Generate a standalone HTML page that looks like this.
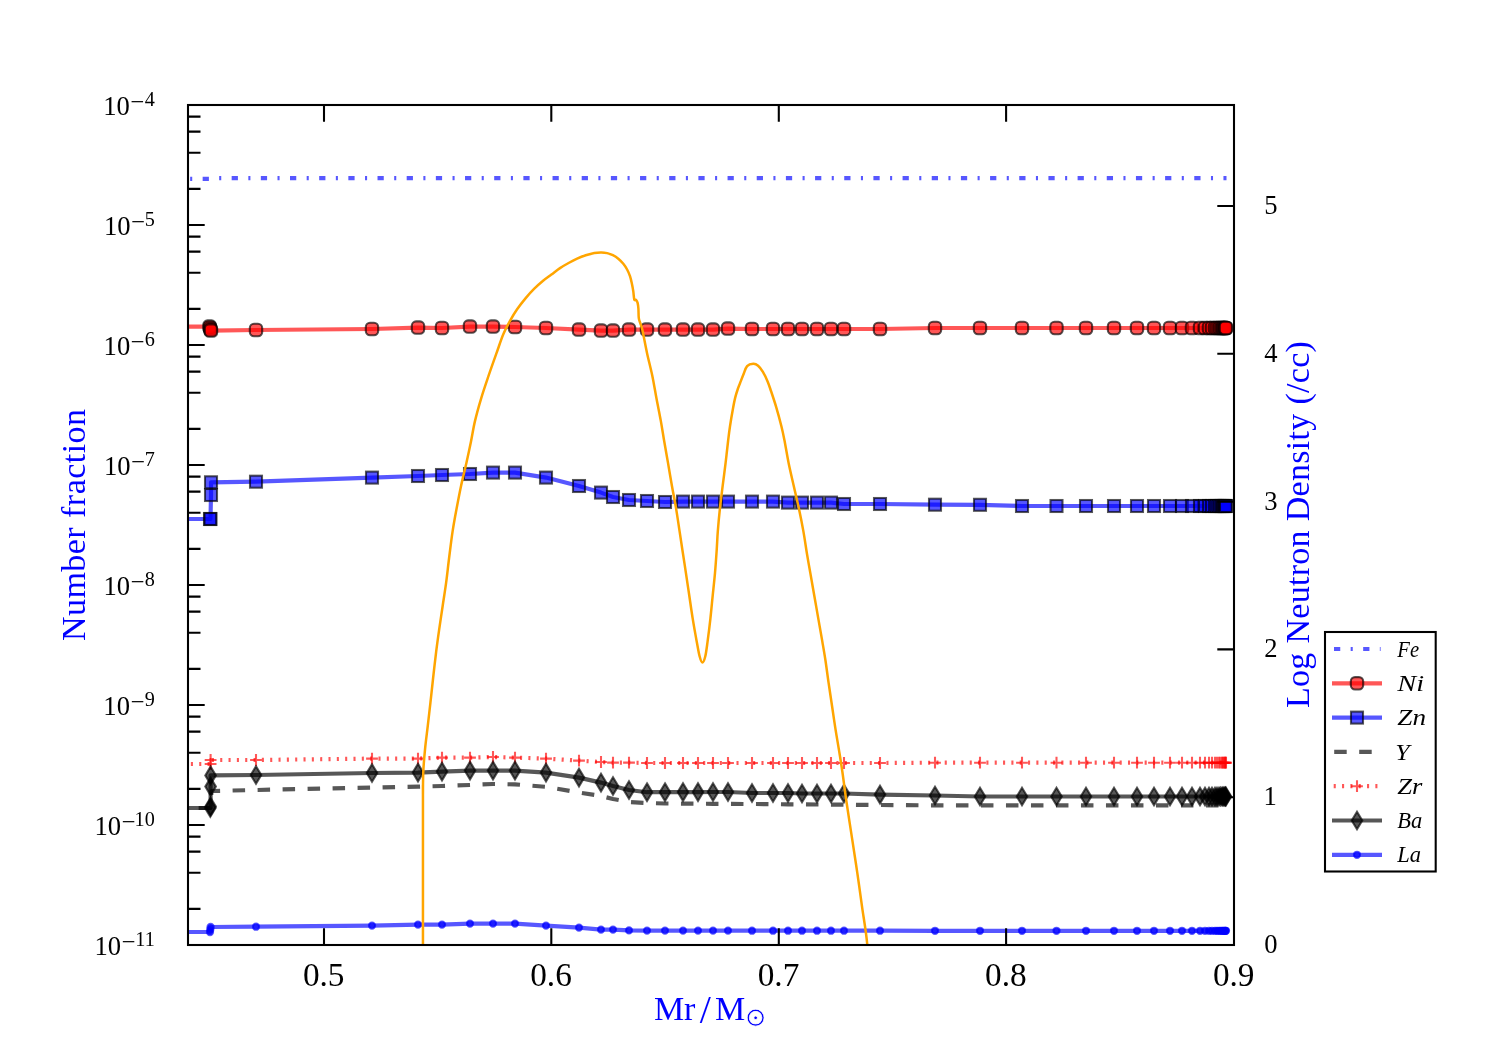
<!DOCTYPE html>
<html><head><meta charset="utf-8"><title>Abundance profile</title><style>
html,body{margin:0;padding:0;background:#fff;width:1500px;height:1050px;overflow:hidden;}
svg{display:block;will-change:transform;}
text{font-family:"Liberation Serif","DejaVu Serif",serif;}
</style></head><body>
<svg width="1500" height="1050" viewBox="0 0 1500 1050">
<rect x="0" y="0" width="1500" height="1050" fill="#fff"/>
<defs><clipPath id="ax"><rect x="188" y="105" width="1046" height="840"/></clipPath>
<rect id="mO" x="-6.2" y="-6.2" width="12.4" height="12.4" rx="4.2" ry="4.2"/>
<rect id="mS" x="-6" y="-6" width="12" height="12"/>
<path id="mD" d="M0,-8.8 L5.3,0 L0,8.8 L-5.3,0 Z"/>
<path id="mP" d="M-5.9,0 H5.9 M0,-5.9 V5.9"/>
<circle id="mDot" r="3.1"/>
</defs>
<g clip-path="url(#ax)">
<polyline points="170.0,178.9 209.5,178.9 211.0,178.2 1226.5,178.2" fill="none" stroke="#0000ff" stroke-opacity="0.66" stroke-width="4.17" stroke-dasharray="6.25 10.42 2.08 10.42" stroke-dashoffset="25.69" stroke-linecap="butt" stroke-linejoin="round"/>
<polyline points="170.0,326.6 209.5,326.6 209.5,326.6 210.0,327.8 210.5,329.5 211.0,330.6 256.0,330.0 372.0,329.0 418.0,327.6 442.0,328.0 470.0,326.6 493.0,326.6 515.0,327.0 546.0,328.0 579.0,329.6 601.0,330.6 613.0,330.6 629.0,329.6 647.0,329.6 665.0,329.6 683.0,329.6 698.0,329.6 713.0,329.6 728.0,328.6 752.0,329.0 773.0,329.0 788.0,329.0 802.0,329.0 817.0,329.0 831.0,329.0 844.0,329.0 880.0,329.0 935.0,328.0 980.0,328.0 1022.0,328.0 1056.5,328.0 1086.0,328.0 1114.0,328.0 1137.0,328.0 1154.0,328.0 1170.0,328.0 1182.0,328.0 1192.0,328.0 1200.0,328.0 1205.0,328.0 1209.0,328.0 1212.0,328.0 1215.0,328.0 1217.0,328.0 1219.0,328.0 1220.5,328.0 1222.0,328.0 1223.0,328.0 1224.0,328.0 1225.0,328.0 1225.5,328.0 1226.0,328.0" fill="none" stroke="#ff0000" stroke-opacity="0.66" stroke-width="4.17" stroke-linejoin="round"/>
<g fill="#ff0000" fill-opacity="0.66" stroke="#000" stroke-opacity="0.66" stroke-width="2.08"><use href="#mO" x="209.5" y="326.6"/><use href="#mO" x="210.0" y="327.8"/><use href="#mO" x="210.5" y="329.5"/><use href="#mO" x="211.0" y="330.6"/><use href="#mO" x="256.0" y="330.0"/><use href="#mO" x="372.0" y="329.0"/><use href="#mO" x="418.0" y="327.6"/><use href="#mO" x="442.0" y="328.0"/><use href="#mO" x="470.0" y="326.6"/><use href="#mO" x="493.0" y="326.6"/><use href="#mO" x="515.0" y="327.0"/><use href="#mO" x="546.0" y="328.0"/><use href="#mO" x="579.0" y="329.6"/><use href="#mO" x="601.0" y="330.6"/><use href="#mO" x="613.0" y="330.6"/><use href="#mO" x="629.0" y="329.6"/><use href="#mO" x="647.0" y="329.6"/><use href="#mO" x="665.0" y="329.6"/><use href="#mO" x="683.0" y="329.6"/><use href="#mO" x="698.0" y="329.6"/><use href="#mO" x="713.0" y="329.6"/><use href="#mO" x="728.0" y="328.6"/><use href="#mO" x="752.0" y="329.0"/><use href="#mO" x="773.0" y="329.0"/><use href="#mO" x="788.0" y="329.0"/><use href="#mO" x="802.0" y="329.0"/><use href="#mO" x="817.0" y="329.0"/><use href="#mO" x="831.0" y="329.0"/><use href="#mO" x="844.0" y="329.0"/><use href="#mO" x="880.0" y="329.0"/><use href="#mO" x="935.0" y="328.0"/><use href="#mO" x="980.0" y="328.0"/><use href="#mO" x="1022.0" y="328.0"/><use href="#mO" x="1056.5" y="328.0"/><use href="#mO" x="1086.0" y="328.0"/><use href="#mO" x="1114.0" y="328.0"/><use href="#mO" x="1137.0" y="328.0"/><use href="#mO" x="1154.0" y="328.0"/><use href="#mO" x="1170.0" y="328.0"/><use href="#mO" x="1182.0" y="328.0"/><use href="#mO" x="1192.0" y="328.0"/><use href="#mO" x="1200.0" y="328.0"/><use href="#mO" x="1205.0" y="328.0"/><use href="#mO" x="1209.0" y="328.0"/><use href="#mO" x="1212.0" y="328.0"/><use href="#mO" x="1215.0" y="328.0"/><use href="#mO" x="1217.0" y="328.0"/><use href="#mO" x="1219.0" y="328.0"/><use href="#mO" x="1220.5" y="328.0"/><use href="#mO" x="1222.0" y="328.0"/><use href="#mO" x="1223.0" y="328.0"/><use href="#mO" x="1224.0" y="328.0"/><use href="#mO" x="1225.0" y="328.0"/><use href="#mO" x="1225.5" y="328.0"/><use href="#mO" x="1226.0" y="328.0"/></g>
<polyline points="170.0,519.0 209.5,519.0 210.0,519.0 210.5,519.0 211.0,495.0 211.0,482.3 256.0,481.7 372.0,477.6 418.0,476.0 442.0,475.0 470.0,474.0 493.0,472.6 515.0,472.6 546.0,477.6 579.0,486.0 601.0,492.6 613.0,497.0 629.0,500.0 647.0,501.0 665.0,502.0 683.0,501.6 698.0,501.6 713.0,501.6 728.0,501.6 752.0,501.6 773.0,501.6 788.0,502.6 802.0,502.6 817.0,502.6 831.0,502.6 844.0,504.0 880.0,504.0 935.0,504.7 980.0,504.8 1022.0,506.0 1056.5,506.0 1086.0,506.0 1114.0,506.0 1137.0,506.0 1154.0,506.0 1170.0,506.0 1182.0,506.0 1192.0,506.0 1200.0,506.0 1205.0,506.0 1209.0,506.0 1212.0,506.0 1215.0,506.0 1217.0,506.0 1219.0,506.0 1220.5,506.0 1222.0,506.0 1223.0,506.0 1224.0,506.0 1225.0,506.0 1225.5,506.0 1226.0,506.0" fill="none" stroke="#0000ff" stroke-opacity="0.66" stroke-width="4.17" stroke-linejoin="round"/>
<g fill="#0000ff" fill-opacity="0.66" stroke="#000" stroke-opacity="0.66" stroke-width="2.08"><use href="#mS" x="210.0" y="519.0"/><use href="#mS" x="210.5" y="519.0"/><use href="#mS" x="211.0" y="495.0"/><use href="#mS" x="211.0" y="482.3"/><use href="#mS" x="256.0" y="481.7"/><use href="#mS" x="372.0" y="477.6"/><use href="#mS" x="418.0" y="476.0"/><use href="#mS" x="442.0" y="475.0"/><use href="#mS" x="470.0" y="474.0"/><use href="#mS" x="493.0" y="472.6"/><use href="#mS" x="515.0" y="472.6"/><use href="#mS" x="546.0" y="477.6"/><use href="#mS" x="579.0" y="486.0"/><use href="#mS" x="601.0" y="492.6"/><use href="#mS" x="613.0" y="497.0"/><use href="#mS" x="629.0" y="500.0"/><use href="#mS" x="647.0" y="501.0"/><use href="#mS" x="665.0" y="502.0"/><use href="#mS" x="683.0" y="501.6"/><use href="#mS" x="698.0" y="501.6"/><use href="#mS" x="713.0" y="501.6"/><use href="#mS" x="728.0" y="501.6"/><use href="#mS" x="752.0" y="501.6"/><use href="#mS" x="773.0" y="501.6"/><use href="#mS" x="788.0" y="502.6"/><use href="#mS" x="802.0" y="502.6"/><use href="#mS" x="817.0" y="502.6"/><use href="#mS" x="831.0" y="502.6"/><use href="#mS" x="844.0" y="504.0"/><use href="#mS" x="880.0" y="504.0"/><use href="#mS" x="935.0" y="504.7"/><use href="#mS" x="980.0" y="504.8"/><use href="#mS" x="1022.0" y="506.0"/><use href="#mS" x="1056.5" y="506.0"/><use href="#mS" x="1086.0" y="506.0"/><use href="#mS" x="1114.0" y="506.0"/><use href="#mS" x="1137.0" y="506.0"/><use href="#mS" x="1154.0" y="506.0"/><use href="#mS" x="1170.0" y="506.0"/><use href="#mS" x="1182.0" y="506.0"/><use href="#mS" x="1192.0" y="506.0"/><use href="#mS" x="1200.0" y="506.0"/><use href="#mS" x="1205.0" y="506.0"/><use href="#mS" x="1209.0" y="506.0"/><use href="#mS" x="1212.0" y="506.0"/><use href="#mS" x="1215.0" y="506.0"/><use href="#mS" x="1217.0" y="506.0"/><use href="#mS" x="1219.0" y="506.0"/><use href="#mS" x="1220.5" y="506.0"/><use href="#mS" x="1222.0" y="506.0"/><use href="#mS" x="1223.0" y="506.0"/><use href="#mS" x="1224.0" y="506.0"/><use href="#mS" x="1225.0" y="506.0"/><use href="#mS" x="1225.5" y="506.0"/><use href="#mS" x="1226.0" y="506.0"/></g>
<polyline points="170.0,808.0 209.5,808.0 210.5,808.0 211.5,791.0 256.0,790.0 372.0,787.6 418.0,786.6 442.0,786.0 470.0,785.0 493.0,784.0 515.0,784.4 546.0,786.8 579.0,792.5 601.0,796.0 613.0,799.0 629.0,802.0 647.0,803.0 665.0,803.5 683.0,803.6 698.0,803.7 713.0,803.8 728.0,803.9 752.0,804.0 773.0,804.2 788.0,804.3 802.0,804.4 817.0,804.5 831.0,804.6 844.0,804.7 880.0,805.0 935.0,805.4 980.0,805.4 1022.0,805.4 1056.5,805.4 1086.0,805.4 1114.0,805.4 1137.0,805.4 1154.0,805.4 1170.0,805.4 1182.0,805.4 1192.0,805.4 1200.0,805.4 1205.0,805.4 1209.0,805.4 1212.0,805.4 1215.0,805.4 1217.0,805.4 1219.0,805.4 1220.5,805.4 1222.0,805.4 1223.0,805.4 1224.0,805.4 1225.0,805.4 1225.5,805.4 1226.0,805.4" fill="none" stroke="#000000" stroke-opacity="0.66" stroke-width="4.17" stroke-dasharray="12.5 12.5" stroke-dashoffset="21.36" stroke-linejoin="round"/>
<polyline points="170.0,764.0 209.5,764.0 210.6,764.0 210.6,760.0 256.0,760.0 372.0,758.6 418.0,758.6 442.0,757.6 470.0,757.6 493.0,757.0 515.0,757.6 546.0,758.6 579.0,760.6 601.0,762.0 613.0,762.6 629.0,762.6 647.0,763.0 665.0,763.0 683.0,763.0 698.0,763.0 713.0,763.0 728.0,763.0 752.0,763.0 773.0,763.0 788.0,763.0 802.0,763.0 817.0,763.0 831.0,763.0 844.0,763.0 880.0,763.0 935.0,762.7 980.0,762.7 1022.0,762.7 1056.5,762.7 1086.0,762.7 1114.0,762.7 1137.0,762.7 1154.0,762.7 1170.0,762.7 1182.0,762.7 1192.0,762.7 1200.0,762.7 1205.0,762.7 1209.0,762.7 1212.0,762.7 1215.0,762.7 1217.0,762.7 1219.0,762.7 1220.5,762.7 1222.0,762.7 1223.0,762.7 1224.0,762.7 1225.0,762.7 1225.5,762.7 1226.0,762.7" fill="none" stroke="#ff0000" stroke-opacity="0.66" stroke-width="4.17" stroke-dasharray="2.08 6.25" stroke-dashoffset="4.11" stroke-linejoin="round"/>
<g fill="none" stroke="#ff0000" stroke-opacity="0.66" stroke-width="2.08"><use href="#mP" x="210.6" y="764.0"/><use href="#mP" x="210.6" y="760.0"/><use href="#mP" x="256.0" y="760.0"/><use href="#mP" x="372.0" y="758.6"/><use href="#mP" x="418.0" y="758.6"/><use href="#mP" x="442.0" y="757.6"/><use href="#mP" x="470.0" y="757.6"/><use href="#mP" x="493.0" y="757.0"/><use href="#mP" x="515.0" y="757.6"/><use href="#mP" x="546.0" y="758.6"/><use href="#mP" x="579.0" y="760.6"/><use href="#mP" x="601.0" y="762.0"/><use href="#mP" x="613.0" y="762.6"/><use href="#mP" x="629.0" y="762.6"/><use href="#mP" x="647.0" y="763.0"/><use href="#mP" x="665.0" y="763.0"/><use href="#mP" x="683.0" y="763.0"/><use href="#mP" x="698.0" y="763.0"/><use href="#mP" x="713.0" y="763.0"/><use href="#mP" x="728.0" y="763.0"/><use href="#mP" x="752.0" y="763.0"/><use href="#mP" x="773.0" y="763.0"/><use href="#mP" x="788.0" y="763.0"/><use href="#mP" x="802.0" y="763.0"/><use href="#mP" x="817.0" y="763.0"/><use href="#mP" x="831.0" y="763.0"/><use href="#mP" x="844.0" y="763.0"/><use href="#mP" x="880.0" y="763.0"/><use href="#mP" x="935.0" y="762.7"/><use href="#mP" x="980.0" y="762.7"/><use href="#mP" x="1022.0" y="762.7"/><use href="#mP" x="1056.5" y="762.7"/><use href="#mP" x="1086.0" y="762.7"/><use href="#mP" x="1114.0" y="762.7"/><use href="#mP" x="1137.0" y="762.7"/><use href="#mP" x="1154.0" y="762.7"/><use href="#mP" x="1170.0" y="762.7"/><use href="#mP" x="1182.0" y="762.7"/><use href="#mP" x="1192.0" y="762.7"/><use href="#mP" x="1200.0" y="762.7"/><use href="#mP" x="1205.0" y="762.7"/><use href="#mP" x="1209.0" y="762.7"/><use href="#mP" x="1212.0" y="762.7"/><use href="#mP" x="1215.0" y="762.7"/><use href="#mP" x="1217.0" y="762.7"/><use href="#mP" x="1219.0" y="762.7"/><use href="#mP" x="1220.5" y="762.7"/><use href="#mP" x="1222.0" y="762.7"/><use href="#mP" x="1223.0" y="762.7"/><use href="#mP" x="1224.0" y="762.7"/><use href="#mP" x="1225.0" y="762.7"/><use href="#mP" x="1225.5" y="762.7"/><use href="#mP" x="1226.0" y="762.7"/></g>
<polyline points="170.0,808.0 209.5,808.0 210.3,808.0 210.6,806.5 210.6,786.6 210.6,775.4 256.0,775.0 372.0,773.0 418.0,772.6 442.0,771.6 470.0,770.6 493.0,770.6 515.0,770.6 546.0,772.6 579.0,777.6 601.0,782.6 613.0,786.0 629.0,790.0 647.0,792.2 665.0,792.2 683.0,792.1 698.0,792.1 713.0,792.0 728.0,792.0 752.0,793.0 773.0,793.0 788.0,793.0 802.0,793.5 817.0,793.5 831.0,793.5 844.0,793.5 880.0,794.6 935.0,795.5 980.0,796.5 1022.0,796.5 1056.5,796.5 1086.0,796.5 1114.0,796.5 1137.0,796.5 1154.0,796.5 1170.0,796.5 1182.0,796.5 1192.0,796.5 1200.0,796.5 1205.0,796.5 1209.0,796.5 1212.0,796.5 1215.0,796.5 1217.0,796.5 1219.0,796.5 1220.5,796.5 1222.0,796.5 1223.0,796.5 1224.0,796.5 1225.0,796.5 1225.5,796.5 1226.0,796.5" fill="none" stroke="#000000" stroke-opacity="0.66" stroke-width="4.17" stroke-linejoin="round"/>
<g fill="#000000" fill-opacity="0.66" stroke="#000" stroke-opacity="0.66" stroke-width="2.08"><use href="#mD" x="210.3" y="808.0"/><use href="#mD" x="210.6" y="806.5"/><use href="#mD" x="210.6" y="786.6"/><use href="#mD" x="210.6" y="775.4"/><use href="#mD" x="256.0" y="775.0"/><use href="#mD" x="372.0" y="773.0"/><use href="#mD" x="418.0" y="772.6"/><use href="#mD" x="442.0" y="771.6"/><use href="#mD" x="470.0" y="770.6"/><use href="#mD" x="493.0" y="770.6"/><use href="#mD" x="515.0" y="770.6"/><use href="#mD" x="546.0" y="772.6"/><use href="#mD" x="579.0" y="777.6"/><use href="#mD" x="601.0" y="782.6"/><use href="#mD" x="613.0" y="786.0"/><use href="#mD" x="629.0" y="790.0"/><use href="#mD" x="647.0" y="792.2"/><use href="#mD" x="665.0" y="792.2"/><use href="#mD" x="683.0" y="792.1"/><use href="#mD" x="698.0" y="792.1"/><use href="#mD" x="713.0" y="792.0"/><use href="#mD" x="728.0" y="792.0"/><use href="#mD" x="752.0" y="793.0"/><use href="#mD" x="773.0" y="793.0"/><use href="#mD" x="788.0" y="793.0"/><use href="#mD" x="802.0" y="793.5"/><use href="#mD" x="817.0" y="793.5"/><use href="#mD" x="831.0" y="793.5"/><use href="#mD" x="844.0" y="793.5"/><use href="#mD" x="880.0" y="794.6"/><use href="#mD" x="935.0" y="795.5"/><use href="#mD" x="980.0" y="796.5"/><use href="#mD" x="1022.0" y="796.5"/><use href="#mD" x="1056.5" y="796.5"/><use href="#mD" x="1086.0" y="796.5"/><use href="#mD" x="1114.0" y="796.5"/><use href="#mD" x="1137.0" y="796.5"/><use href="#mD" x="1154.0" y="796.5"/><use href="#mD" x="1170.0" y="796.5"/><use href="#mD" x="1182.0" y="796.5"/><use href="#mD" x="1192.0" y="796.5"/><use href="#mD" x="1200.0" y="796.5"/><use href="#mD" x="1205.0" y="796.5"/><use href="#mD" x="1209.0" y="796.5"/><use href="#mD" x="1212.0" y="796.5"/><use href="#mD" x="1215.0" y="796.5"/><use href="#mD" x="1217.0" y="796.5"/><use href="#mD" x="1219.0" y="796.5"/><use href="#mD" x="1220.5" y="796.5"/><use href="#mD" x="1222.0" y="796.5"/><use href="#mD" x="1223.0" y="796.5"/><use href="#mD" x="1224.0" y="796.5"/><use href="#mD" x="1225.0" y="796.5"/><use href="#mD" x="1225.5" y="796.5"/><use href="#mD" x="1226.0" y="796.5"/></g>
<polyline points="170.0,932.0 209.5,932.0 210.0,932.0 210.3,929.5 210.6,927.0 256.0,926.7 372.0,925.6 418.0,924.6 442.0,924.6 470.0,923.6 493.0,923.6 515.0,923.6 546.0,925.6 579.0,927.6 601.0,929.6 613.0,929.6 629.0,930.4 647.0,930.6 665.0,930.6 683.0,930.6 698.0,930.6 713.0,930.6 728.0,930.6 752.0,930.7 773.0,930.7 788.0,930.7 802.0,930.7 817.0,930.7 831.0,930.7 844.0,930.7 880.0,930.7 935.0,930.8 980.0,930.8 1022.0,930.8 1056.5,930.8 1086.0,930.8 1114.0,930.8 1137.0,930.8 1154.0,930.8 1170.0,930.8 1182.0,930.8 1192.0,930.8 1200.0,930.8 1205.0,930.8 1209.0,930.8 1212.0,930.8 1215.0,930.8 1217.0,930.8 1219.0,930.8 1220.5,930.8 1222.0,930.8 1223.0,930.8 1224.0,930.8 1225.0,930.8 1225.5,930.8 1226.0,930.8" fill="none" stroke="#0000ff" stroke-opacity="0.66" stroke-width="4.17" stroke-linejoin="round"/>
<g fill="#0000ff" fill-opacity="0.66" stroke="#0000ff" stroke-opacity="0.66" stroke-width="2.08"><use href="#mDot" x="210.0" y="932.0"/><use href="#mDot" x="210.3" y="929.5"/><use href="#mDot" x="210.6" y="927.0"/><use href="#mDot" x="256.0" y="926.7"/><use href="#mDot" x="372.0" y="925.6"/><use href="#mDot" x="418.0" y="924.6"/><use href="#mDot" x="442.0" y="924.6"/><use href="#mDot" x="470.0" y="923.6"/><use href="#mDot" x="493.0" y="923.6"/><use href="#mDot" x="515.0" y="923.6"/><use href="#mDot" x="546.0" y="925.6"/><use href="#mDot" x="579.0" y="927.6"/><use href="#mDot" x="601.0" y="929.6"/><use href="#mDot" x="613.0" y="929.6"/><use href="#mDot" x="629.0" y="930.4"/><use href="#mDot" x="647.0" y="930.6"/><use href="#mDot" x="665.0" y="930.6"/><use href="#mDot" x="683.0" y="930.6"/><use href="#mDot" x="698.0" y="930.6"/><use href="#mDot" x="713.0" y="930.6"/><use href="#mDot" x="728.0" y="930.6"/><use href="#mDot" x="752.0" y="930.7"/><use href="#mDot" x="773.0" y="930.7"/><use href="#mDot" x="788.0" y="930.7"/><use href="#mDot" x="802.0" y="930.7"/><use href="#mDot" x="817.0" y="930.7"/><use href="#mDot" x="831.0" y="930.7"/><use href="#mDot" x="844.0" y="930.7"/><use href="#mDot" x="880.0" y="930.7"/><use href="#mDot" x="935.0" y="930.8"/><use href="#mDot" x="980.0" y="930.8"/><use href="#mDot" x="1022.0" y="930.8"/><use href="#mDot" x="1056.5" y="930.8"/><use href="#mDot" x="1086.0" y="930.8"/><use href="#mDot" x="1114.0" y="930.8"/><use href="#mDot" x="1137.0" y="930.8"/><use href="#mDot" x="1154.0" y="930.8"/><use href="#mDot" x="1170.0" y="930.8"/><use href="#mDot" x="1182.0" y="930.8"/><use href="#mDot" x="1192.0" y="930.8"/><use href="#mDot" x="1200.0" y="930.8"/><use href="#mDot" x="1205.0" y="930.8"/><use href="#mDot" x="1209.0" y="930.8"/><use href="#mDot" x="1212.0" y="930.8"/><use href="#mDot" x="1215.0" y="930.8"/><use href="#mDot" x="1217.0" y="930.8"/><use href="#mDot" x="1219.0" y="930.8"/><use href="#mDot" x="1220.5" y="930.8"/><use href="#mDot" x="1222.0" y="930.8"/><use href="#mDot" x="1223.0" y="930.8"/><use href="#mDot" x="1224.0" y="930.8"/><use href="#mDot" x="1225.0" y="930.8"/><use href="#mDot" x="1225.5" y="930.8"/><use href="#mDot" x="1226.0" y="930.8"/></g>
</g>
<path d="M188,945.0h16.7 M188,908.9h12.5 M188,872.8h12.5 M188,851.6h12.5 M188,836.6h12.5 M188,825.0h16.7 M188,788.9h12.5 M188,752.8h12.5 M188,731.6h12.5 M188,716.6h12.5 M188,705.0h16.7 M188,668.9h12.5 M188,632.8h12.5 M188,611.6h12.5 M188,596.6h12.5 M188,585.0h16.7 M188,548.9h12.5 M188,512.8h12.5 M188,491.6h12.5 M188,476.6h12.5 M188,465.0h16.7 M188,428.9h12.5 M188,392.8h12.5 M188,371.6h12.5 M188,356.6h12.5 M188,345.0h16.7 M188,308.9h12.5 M188,272.8h12.5 M188,251.6h12.5 M188,236.6h12.5 M188,225.0h16.7 M188,188.9h12.5 M188,152.8h12.5 M188,131.6h12.5 M188,116.6h12.5 M188,105.0h16.7 M324.0,945v-16.7 M324.0,105v16.7 M551.3,945v-16.7 M551.3,105v16.7 M778.8,945v-16.7 M778.8,105v16.7 M1006.1,945v-16.7 M1006.1,105v16.7 M1234,945.0h-16.7 M1234,797.2h-16.7 M1234,649.4h-16.7 M1234,501.6h-16.7 M1234,353.8h-16.7 M1234,206.0h-16.7" stroke="#000" stroke-width="2.08" fill="none"/>
<g clip-path="url(#ax)"><path d="M422.95,990.00 C422.95,958.33 422.95,832.62 422.95,800.00 C422.95,767.38 422.89,799.07 422.95,794.30 C423.01,789.53 422.94,779.02 423.30,771.40 C423.66,763.78 424.35,756.22 425.10,748.60 C425.85,740.98 426.92,733.32 427.80,725.70 C428.68,718.08 429.55,710.52 430.40,702.90 C431.25,695.28 431.93,688.58 432.90,680.00 C433.87,671.42 435.13,659.97 436.20,651.40 C437.27,642.83 438.22,636.22 439.30,628.60 C440.38,620.98 441.57,613.32 442.70,605.70 C443.83,598.08 445.03,590.85 446.10,582.90 C447.17,574.95 448.02,566.58 449.10,558.00 C450.18,549.42 451.35,539.63 452.60,531.40 C453.85,523.17 455.18,516.22 456.60,508.60 C458.02,500.98 459.47,493.32 461.10,485.70 C462.73,478.08 464.77,470.18 466.40,462.90 C468.03,455.62 469.48,448.92 470.90,442.00 C472.32,435.08 473.20,428.63 474.90,421.40 C476.60,414.17 478.82,406.22 481.10,398.60 C483.38,390.98 486.02,383.32 488.60,375.70 C491.18,368.08 494.13,359.83 496.60,352.90 C499.07,345.97 501.12,339.52 503.40,334.10 C505.68,328.68 508.02,324.53 510.30,320.40 C512.58,316.27 514.53,313.02 517.10,309.30 C519.67,305.58 522.83,301.53 525.70,298.10 C528.57,294.67 531.45,291.55 534.30,288.70 C537.15,285.85 539.95,283.35 542.80,281.00 C545.65,278.65 548.53,276.75 551.40,274.60 C554.27,272.45 557.13,270.03 560.00,268.10 C562.87,266.17 565.75,264.57 568.60,263.00 C571.45,261.43 574.25,259.98 577.10,258.70 C579.95,257.42 582.83,256.27 585.70,255.30 C588.57,254.33 591.68,253.38 594.30,252.90 C596.92,252.42 599.27,252.37 601.40,252.40 C603.53,252.43 605.18,252.63 607.10,253.10 C609.02,253.57 610.98,254.22 612.90,255.20 C614.82,256.18 616.87,257.57 618.60,259.00 C620.33,260.43 621.88,262.05 623.30,263.80 C624.72,265.55 625.98,267.43 627.10,269.50 C628.22,271.57 629.20,273.82 630.00,276.20 C630.80,278.58 631.35,281.27 631.90,283.80 C632.45,286.33 632.90,288.78 633.30,291.40 C633.70,294.02 633.82,298.07 634.30,299.50 C634.78,300.93 635.65,299.43 636.20,300.00 C636.75,300.57 637.23,301.47 637.60,302.90 C637.97,304.33 638.20,306.07 638.40,308.60 C638.60,311.13 638.45,315.57 638.80,318.10 C639.15,320.63 639.90,321.82 640.50,323.80 C641.10,325.78 641.32,325.15 642.40,330.00 C643.48,334.85 645.35,345.28 647.00,352.90 C648.65,360.52 650.72,368.08 652.30,375.70 C653.88,383.32 655.07,390.98 656.50,398.60 C657.93,406.22 659.65,414.50 660.90,421.40 C662.15,428.30 662.82,433.08 664.00,440.00 C665.18,446.92 666.68,455.28 668.00,462.90 C669.32,470.52 670.55,478.08 671.90,485.70 C673.25,493.32 674.82,500.98 676.10,508.60 C677.38,516.22 678.55,524.50 679.60,531.40 C680.65,538.30 681.55,544.42 682.40,550.00 C683.25,555.58 684.12,561.08 684.70,564.90 C685.28,568.72 685.13,567.77 685.90,572.90 C686.67,578.03 688.17,588.08 689.30,595.70 C690.43,603.32 691.47,610.98 692.70,618.60 C693.93,626.22 695.55,635.12 696.70,641.40 C697.85,647.68 698.65,652.77 699.60,656.30 C700.55,659.83 701.45,662.60 702.40,662.60 C703.35,662.60 704.43,659.83 705.30,656.30 C706.17,652.77 706.75,647.68 707.60,641.40 C708.45,635.12 709.55,626.22 710.40,618.60 C711.25,610.98 711.93,603.32 712.70,595.70 C713.47,588.08 714.33,580.52 715.00,572.90 C715.67,565.28 716.23,556.92 716.70,550.00 C717.17,543.08 717.27,538.30 717.80,531.40 C718.33,524.50 719.08,516.22 719.90,508.60 C720.72,500.98 721.75,493.32 722.70,485.70 C723.65,478.08 724.68,470.52 725.60,462.90 C726.52,455.28 727.47,446.12 728.20,440.00 C728.93,433.88 729.22,431.37 730.00,426.20 C730.78,421.03 732.03,413.77 732.90,409.00 C733.77,404.23 734.33,401.08 735.20,397.60 C736.07,394.12 737.30,390.48 738.10,388.10 C738.90,385.72 739.13,385.52 740.00,383.30 C740.87,381.08 742.12,377.65 743.30,374.80 C744.48,371.95 745.43,368.03 747.10,366.20 C748.77,364.37 751.47,363.88 753.30,363.80 C755.13,363.72 756.50,364.35 758.10,365.70 C759.70,367.05 761.32,369.28 762.90,371.90 C764.48,374.52 766.25,378.22 767.60,381.40 C768.95,384.58 769.57,386.72 771.00,391.00 C772.43,395.28 774.47,401.23 776.20,407.10 C777.93,412.97 780.03,420.72 781.40,426.20 C782.77,431.68 783.20,433.88 784.40,440.00 C785.60,446.12 787.05,455.28 788.60,462.90 C790.15,470.52 791.98,478.08 793.70,485.70 C795.42,493.32 797.28,500.98 798.90,508.60 C800.52,516.22 802.05,523.83 803.40,531.40 C804.75,538.97 805.85,547.08 807.00,554.00 C808.15,560.92 809.08,565.95 810.30,572.90 C811.52,579.85 812.97,588.08 814.30,595.70 C815.63,603.32 816.97,610.98 818.30,618.60 C819.63,626.22 821.12,634.50 822.30,641.40 C823.48,648.30 824.35,653.08 825.40,660.00 C826.45,666.92 827.50,675.28 828.60,682.90 C829.70,690.52 830.87,698.08 832.00,705.70 C833.13,713.32 834.20,720.98 835.40,728.60 C836.60,736.22 838.03,744.17 839.20,751.40 C840.37,758.63 841.18,763.57 842.40,772.00 C843.62,780.43 844.88,790.90 846.50,802.00 C848.12,813.10 850.30,826.78 852.10,838.60 C853.90,850.42 855.63,861.48 857.30,872.90 C858.97,884.32 860.45,895.25 862.10,907.10 C863.75,918.95 865.95,930.18 867.20,944.00 C868.45,957.82 869.20,982.33 869.60,990.00" fill="none" stroke="#ffa500" stroke-width="2.5" stroke-linejoin="round"/></g>
<rect x="188" y="105" width="1046" height="840" fill="none" stroke="#000" stroke-width="2.08"/>
<text x="94.40" y="955.00" font-size="26.6">10</text><text x="121.66" y="949.70" font-size="24.7">−</text><text x="154.80" y="945.80" font-size="20.2" text-anchor="end">11</text>
<text x="94.40" y="835.00" font-size="26.6">10</text><text x="121.66" y="829.70" font-size="24.7">−</text><text x="154.80" y="825.80" font-size="20.2" text-anchor="end">10</text>
<text x="103.37" y="715.00" font-size="26.6">10</text><text x="130.63" y="709.70" font-size="24.7">−</text><text x="154.80" y="705.80" font-size="20.2" text-anchor="end">9</text>
<text x="103.49" y="595.00" font-size="26.6">10</text><text x="130.75" y="589.70" font-size="24.7">−</text><text x="154.80" y="585.80" font-size="20.2" text-anchor="end">8</text>
<text x="104.06" y="475.00" font-size="26.6">10</text><text x="131.31" y="469.70" font-size="24.7">−</text><text x="154.80" y="465.80" font-size="20.2" text-anchor="end">7</text>
<text x="103.59" y="355.00" font-size="26.6">10</text><text x="130.85" y="349.70" font-size="24.7">−</text><text x="154.80" y="345.80" font-size="20.2" text-anchor="end">6</text>
<text x="103.90" y="235.00" font-size="26.6">10</text><text x="131.15" y="229.70" font-size="24.7">−</text><text x="154.80" y="225.80" font-size="20.2" text-anchor="end">5</text>
<text x="103.13" y="115.00" font-size="26.6">10</text><text x="130.38" y="109.70" font-size="24.7">−</text><text x="154.80" y="105.80" font-size="20.2" text-anchor="end">4</text>
<text x="323.7" y="985.6" font-size="33.3" text-anchor="middle">0.5</text>
<text x="551.0" y="985.6" font-size="33.3" text-anchor="middle">0.6</text>
<text x="778.5" y="985.6" font-size="33.3" text-anchor="middle">0.7</text>
<text x="1005.8" y="985.6" font-size="33.3" text-anchor="middle">0.8</text>
<text x="1233.7" y="985.6" font-size="33.3" text-anchor="middle">0.9</text>
<text x="1264.2" y="952.9" font-size="26.6">0</text>
<text x="1263.4" y="805.1" font-size="26.6">1</text>
<text x="1264.2" y="657.3" font-size="26.6">2</text>
<text x="1264.2" y="509.5" font-size="26.6">3</text>
<text x="1264.2" y="361.7" font-size="26.6">4</text>
<text x="1264.2" y="213.9" font-size="26.6">5</text>
<text x="0" y="0" font-size="34" fill="#0000ff" text-anchor="middle" textLength="232" lengthAdjust="spacing" transform="translate(85.2,525) rotate(-90)">Number fraction</text>
<text x="0" y="0" font-size="34" fill="#0000ff" text-anchor="middle" textLength="367" lengthAdjust="spacing" transform="translate(1309.2,524.6) rotate(-90)">Log Neutron Density (/cc)</text>
<text x="653.9" y="1020" font-size="34" fill="#0000ff">Mr</text><text x="699.8" y="1023.3" font-size="40" fill="#0000ff">/</text><text x="715.1" y="1020" font-size="34" fill="#0000ff">M</text><text x="744.9" y="1024.8" font-size="26.7" fill="#0000ff" stroke="#fff" stroke-width="0.7" style="font-family:'DejaVu Math TeX Gyre','DejaVu Sans',sans-serif">⊙</text>
<rect x="1325" y="632" width="110.7" height="239.5" fill="#fff" stroke="#000" stroke-width="2.08"/>
<line x1="1332" y1="649.0" x2="1380.6" y2="649.0" stroke="#0000ff" stroke-opacity="0.66" stroke-width="4.17" stroke-dasharray="6.25 10.42 2.08 10.42" stroke-dashoffset="-2"/><text x="1397.3" y="656.6" font-size="24" font-style="italic" textLength="21.8" lengthAdjust="spacingAndGlyphs">Fe</text>
<line x1="1332" y1="683.3" x2="1382" y2="683.3" stroke="#ff0000" stroke-opacity="0.66" stroke-width="4.17"/><use href="#mO" x="1357" y="683.3" fill="#ff0000" fill-opacity="0.66" stroke="#000" stroke-opacity="0.66" stroke-width="2.08"/><text x="1397.3" y="690.9" font-size="24" font-style="italic" textLength="26.8" lengthAdjust="spacingAndGlyphs">Ni</text>
<line x1="1332" y1="717.6" x2="1382" y2="717.6" stroke="#0000ff" stroke-opacity="0.66" stroke-width="4.17"/><use href="#mS" x="1357" y="717.6" fill="#0000ff" fill-opacity="0.66" stroke="#000" stroke-opacity="0.66" stroke-width="2.08"/><text x="1397.3" y="725.2" font-size="24" font-style="italic" textLength="28.7" lengthAdjust="spacingAndGlyphs">Zn</text>
<line x1="1332" y1="751.9" x2="1382" y2="751.9" stroke="#000" stroke-opacity="0.66" stroke-width="4.17" stroke-dasharray="12.5 12.5" stroke-dashoffset="-2.2"/><text x="1395.2" y="759.5" font-size="24" font-style="italic" textLength="14.4" lengthAdjust="spacingAndGlyphs">Y</text>
<line x1="1332" y1="786.2" x2="1382" y2="786.2" stroke="#ff0000" stroke-opacity="0.66" stroke-width="4.17" stroke-dasharray="2.08 6.25" stroke-dashoffset="-1.7"/><use href="#mP" x="1357" y="786.2" fill="none" stroke="#ff0000" stroke-opacity="0.66" stroke-width="2.08"/><text x="1397.3" y="793.8" font-size="24" font-style="italic" textLength="25.1" lengthAdjust="spacingAndGlyphs">Zr</text>
<line x1="1332" y1="820.5" x2="1382" y2="820.5" stroke="#000000" stroke-opacity="0.66" stroke-width="4.17"/><use href="#mD" x="1357" y="820.5" fill="#000000" fill-opacity="0.66" stroke="#000" stroke-opacity="0.66" stroke-width="2.08"/><text x="1397.3" y="828.1" font-size="24" font-style="italic" textLength="25.0" lengthAdjust="spacingAndGlyphs">Ba</text>
<line x1="1332" y1="854.8" x2="1382" y2="854.8" stroke="#0000ff" stroke-opacity="0.66" stroke-width="4.17"/><use href="#mDot" x="1357" y="854.8" fill="#0000ff" fill-opacity="0.66" stroke="#0000ff" stroke-opacity="0.66" stroke-width="2.08"/><text x="1397.3" y="862.4" font-size="24" font-style="italic" textLength="23.8" lengthAdjust="spacingAndGlyphs">La</text>
</svg>
</body></html>
